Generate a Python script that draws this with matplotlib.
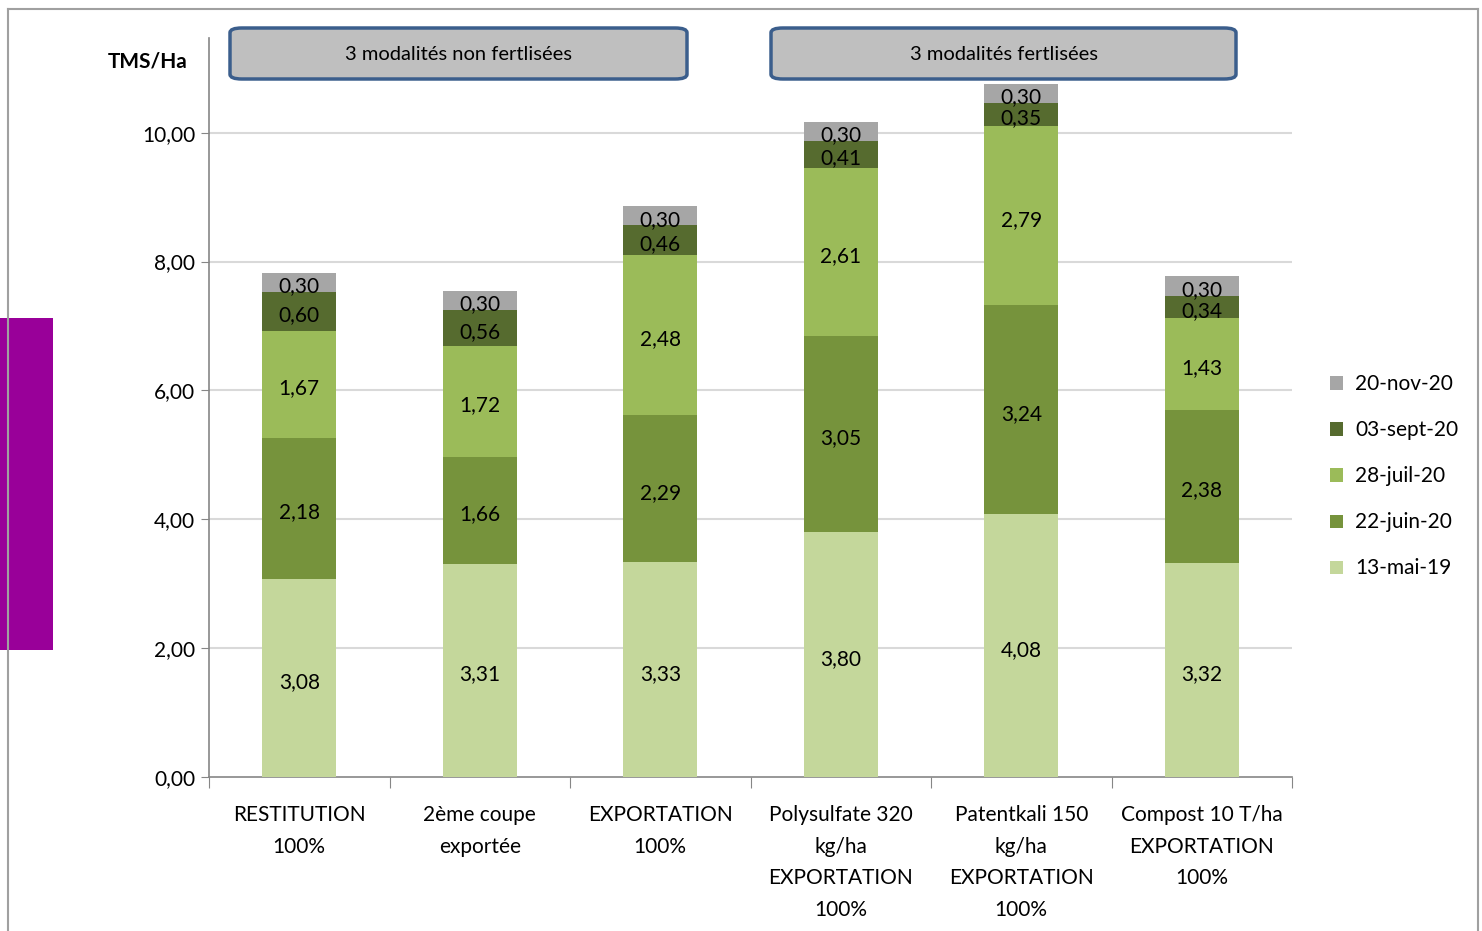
import matplotlib
matplotlib.use("Agg")
import matplotlib.pyplot as plt
from matplotlib.patches import FancyBboxPatch, Rectangle
from matplotlib.ticker import FuncFormatter
import numpy as np

plt.rcParams['font.family'] = ['Lato', 'DejaVu Sans']

categories = ["RESTITUTION\n100%", "2ème coupe\nexportée", "EXPORTATION\n100%",
              "Polysulfate 320\nkg/ha\nEXPORTATION\n100%",
              "Patentkali 150\nkg/ha\nEXPORTATION\n100%",
              "Compost 10 T/ha\nEXPORTATION\n100%"]
series_names = ["13-mai-19", "22-juin-20", "28-juil-20", "03-sept-20", "20-nov-20"]
mai19 = [3.08, 3.31, 3.33, 3.80, 4.08, 3.32]
juin20 = [2.18, 1.66, 2.29, 3.05, 3.24, 2.38]
juil20 = [1.67, 1.72, 2.48, 2.61, 2.79, 1.43]
sept20 = [0.60, 0.56, 0.46, 0.41, 0.35, 0.34]
nov20 = [0.30, 0.30, 0.30, 0.30, 0.30, 0.30]
series = [mai19, juin20, juil20, sept20, nov20]
colors = ["#C4D79B", "#76933C", "#9BBB59", "#566B2F", "#A6A6A6"]
yticks = [0, 2, 4, 6, 8, 10]

W, H = 1482, 931
fig = plt.figure(figsize=(W / 100, H / 100), dpi=100)

def fx(px):
    return px / W

def fy(py):
    return 1 - py / H

FS = 15

ax = fig.add_axes([fx(209), fy(777), fx(1292) - fx(209), fy(38) - fy(777)])
x = np.arange(len(categories))
bottom = np.zeros(len(categories))
handles = []
for name, vals, c in zip(series_names, series, colors):
    vals = np.array(vals)
    bars = ax.bar(x, vals, 0.41, bottom=bottom, color=c, label=name, zorder=3)
    handles.append(bars)
    for xi, b, v in zip(x, bottom, vals):
        ax.annotate(f"{v:.2f}".replace(".", ","), (xi, b + v / 2), xytext=(0, -3),
                    textcoords="offset points", ha="center", va="center",
                    fontsize=FS, color="black", zorder=4)
    bottom += vals

ax.set_xlim(-0.5, len(categories) - 0.5)
ax.set_ylim(0, 11.47)
ax.set_yticks(yticks)
ax.yaxis.set_major_formatter(FuncFormatter(lambda v, p: f"{v:.2f}".replace(".", ",")))
ax.tick_params(axis="y", labelsize=FS, length=6, color="#868686", pad=4)
ax.set_xticks(np.arange(-0.5, len(categories), 1.0))
ax.set_xticklabels([])
ax.tick_params(axis="x", which="major", length=8, color="#868686")
ax.set_xticks(x, minor=True)
ax.set_xticklabels(categories, minor=True, fontsize=FS, linespacing=1.74)
ax.tick_params(axis="x", which="minor", length=0, pad=20)
for s in ["top", "right"]:
    ax.spines[s].set_visible(False)
for s in ["left", "bottom"]:
    ax.spines[s].set_color("#868686")
    ax.spines[s].set_linewidth(1.2)
for v in yticks[1:]:
    ax.axhline(v, color="#D9D9D9", lw=1.5, zorder=1)

# legend
leg = ax.legend(handles=handles[::-1], labels=series_names[::-1], loc="upper left",
                bbox_to_anchor=(fx(1322), fy(366)), bbox_transform=fig.transFigure,
                frameon=False, fontsize=FS, handlelength=0.6, handleheight=0.6,
                labelspacing=1.25, handletextpad=0.6, borderaxespad=0)

# y title
fig.text(fx(187), fy(61), "TMS/Ha", ha="right", va="center", fontsize=FS, fontweight="bold")

# top boxes
for (x0, x1, txt) in [(230, 687, "3 modalités non fertlisées"), (771, 1236, "3 modalités fertlisées")]:
    box = FancyBboxPatch((fx(x0), fy(79)), fx(x1) - fx(x0), fy(28) - fy(79),
                         boxstyle="round,pad=0,rounding_size=0.008",
                         transform=fig.transFigure, facecolor="#BFBFBF",
                         edgecolor="#3B5E8C", linewidth=2.5, mutation_aspect=H / W * 1.0)
    fig.patches.append(box)
    fig.text(fx((x0 + x1) / 2), fy(54), txt, ha="center", va="center", fontsize=14.5)

# outer border
fig.add_artist(plt.Line2D([fx(8), fx(8)], [fy(9), 0], transform=fig.transFigure, color="#A0A0A0", lw=1.5))
fig.add_artist(plt.Line2D([fx(8), fx(1478)], [fy(9), fy(9)], transform=fig.transFigure, color="#A0A0A0", lw=1.5))
fig.add_artist(plt.Line2D([fx(1478), fx(1478)], [fy(9), 0], transform=fig.transFigure, color="#A0A0A0", lw=1.5))

# purple block
fig.patches.append(Rectangle((0, fy(650)), fx(53), fy(318) - fy(650), transform=fig.transFigure,
                             facecolor="#990099", edgecolor="none"))

fig.savefig("out.png", dpi=100)
